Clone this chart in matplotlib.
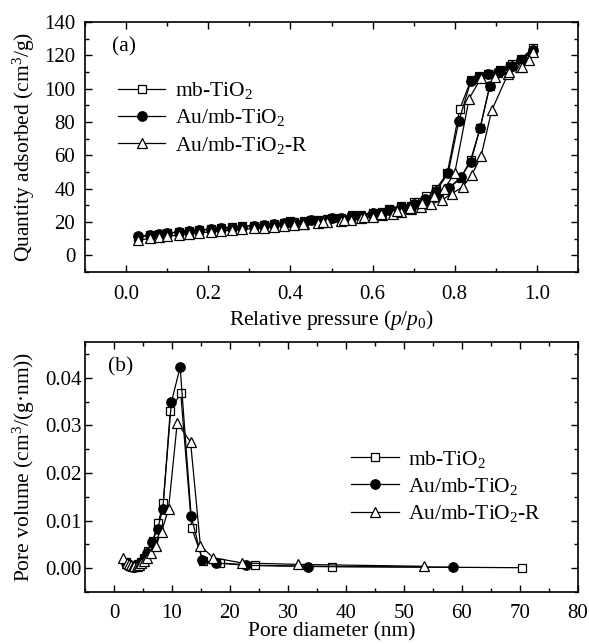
import matplotlib
matplotlib.use("Agg")
import matplotlib.pyplot as plt
from matplotlib.ticker import MultipleLocator, FormatStrFormatter

plt.rcParams['font.family'] = ['Liberation Serif', 'DejaVu Serif']
plt.rcParams['mathtext.fontset'] = 'custom'
plt.rcParams['mathtext.rm'] = 'Liberation Serif'
plt.rcParams['mathtext.it'] = 'Liberation Serif:italic'
plt.rcParams['font.size'] = 15.5

labels = ['mb-TiO$_2$', 'Au/mb-TiO$_2$', 'Au/mb-TiO$_2$-R']

# ---- (a) isotherms: adsorption then desorption ----
mb_ads_p = [0.029, 0.059, 0.08, 0.10, 0.128, 0.153, 0.177, 0.206, 0.23, 0.259, 0.283, 0.311, 0.336, 0.36,
            0.385, 0.409, 0.433, 0.466, 0.49, 0.523, 0.547, 0.572, 0.60, 0.624, 0.649, 0.669, 0.693, 0.718,
            0.734, 0.759, 0.787, 0.815, 0.839, 0.862, 0.885, 0.905, 0.935, 0.962, 0.99]
mb_ads_q = [11.0, 12.0, 12.6, 13.2, 14.0, 14.7, 15.2, 15.8, 16.3, 16.8, 17.3, 17.8, 18.3, 18.8,
            19.4, 19.9, 20.4, 21.1, 21.6, 22.4, 23.1, 23.9, 24.8, 25.7, 26.8, 28.0, 29.6, 31.8,
            33.5, 36.5, 40.5, 46.5, 57.4, 76.6, 101.4, 109.5, 113.5, 118.0, 124.5]
mb_des_p = [0.968, 0.94, 0.91, 0.88, 0.86, 0.839, 0.812, 0.782, 0.755, 0.73, 0.70, 0.67, 0.64, 0.60, 0.55, 0.50, 0.45, 0.40]
mb_des_q = [117.5, 114.5, 111.0, 108.6, 107.5, 105.0, 87.6, 49.4, 40.0, 35.5, 32.0, 29.5, 27.5, 25.6, 24.0, 22.5, 21.3, 20.3]

au_ads_p = mb_ads_p
au_ads_q = [11.3, 12.2, 12.8, 13.3, 14.0, 14.6, 15.1, 15.6, 16.1, 16.6, 17.1, 17.6, 18.1, 18.6,
            19.1, 19.6, 20.1, 20.8, 21.3, 22.1, 22.8, 23.6, 24.5, 25.4, 26.4, 27.5, 29.0, 31.0,
            33.0, 36.0, 40.4, 47.0, 56.0, 76.6, 101.4, 110.0, 113.0, 117.0, 123.0]
au_des_p = [0.965, 0.94, 0.91, 0.88, 0.86, 0.839, 0.81, 0.784, 0.755, 0.727, 0.70, 0.67, 0.64, 0.60, 0.55, 0.50, 0.45, 0.40]
au_des_q = [117.0, 113.5, 110.5, 108.5, 107.0, 104.4, 80.6, 49.4, 38.6, 34.0, 31.0, 29.0, 27.0, 25.2, 23.6, 22.2, 21.0, 20.0]

aur_ads_p = [0.029, 0.059, 0.08, 0.10, 0.128, 0.153, 0.177, 0.206, 0.23, 0.259, 0.283, 0.311, 0.336, 0.36,
             0.385, 0.409, 0.433, 0.466, 0.49, 0.523, 0.547, 0.572, 0.60, 0.624, 0.649, 0.669, 0.693, 0.718,
             0.743, 0.77, 0.793, 0.819, 0.841, 0.864, 0.89, 0.93, 0.96, 0.99]
aur_ads_q = [9.0, 10.2, 10.8, 11.4, 12.2, 12.9, 13.5, 14.1, 14.6, 15.1, 15.6, 16.1, 16.6, 17.1,
             17.6, 18.1, 18.6, 19.3, 19.9, 20.7, 21.4, 22.2, 23.0, 24.0, 25.0, 26.0, 27.5, 29.0,
             30.6, 33.4, 37.0, 41.0, 48.0, 59.4, 87.0, 109.0, 113.0, 122.0]
aur_des_p = [0.98, 0.963, 0.931, 0.899, 0.864, 0.835, 0.80, 0.775, 0.75, 0.72, 0.69, 0.66, 0.62, 0.58, 0.53, 0.48, 0.43]
aur_des_q = [117.4, 113.0, 110.0, 107.0, 106.4, 94.0, 49.4, 40.0, 35.5, 31.5, 28.5, 26.5, 24.5, 23.0, 21.3, 19.8, 18.6]

# ---- (b) pore size distributions ----
mb_d = [2.0, 2.3, 2.6, 2.9, 3.2, 3.5, 3.8, 4.2, 4.6, 5.1, 5.8, 6.7, 7.6, 8.5, 9.7, 11.5, 13.4, 15.4, 18.2, 24.3, 37.6, 70.3]
mb_v = [0.0012, 0.0008, 0.0006, 0.0005, 0.0004, 0.0004, 0.0005, 0.0008, 0.0013, 0.0021, 0.0036, 0.0058,
        0.0094, 0.0136, 0.033, 0.0368, 0.0084, 0.0015, 0.0011, 0.0006, 0.00035, 0.0001]
au_d = [2.0, 2.3, 2.6, 2.9, 3.2, 3.5, 3.8, 4.2, 4.6, 5.1, 5.7, 6.5, 7.5, 8.4, 9.9, 11.4, 13.3, 15.2, 17.5, 22.8, 33.4, 58.4]
au_v = [0.0010, 0.0007, 0.0005, 0.0004, 0.0003, 0.0003, 0.0004, 0.0007, 0.0011, 0.0019, 0.0032, 0.0054,
        0.0082, 0.0124, 0.0349, 0.0422, 0.011, 0.0017, 0.0011, 0.0006, 0.00035, 0.0002]
aur_d = [1.6, 2.3, 2.6, 2.9, 3.2, 3.5, 3.9, 4.3, 4.7, 5.2, 5.7, 6.4, 7.2, 8.2, 9.4, 10.9, 13.2, 14.9, 17.1, 22.1, 31.7, 53.4]
aur_v = [0.0021, 0.0011, 0.0008, 0.0006, 0.0005, 0.0005, 0.0005, 0.0007, 0.001, 0.0015, 0.0022, 0.0032,
         0.0047, 0.0077, 0.0124, 0.0305, 0.0265, 0.0047, 0.0022, 0.0011, 0.0008, 0.0004]

fig = plt.figure(figsize=(5.89, 6.44), dpi=100)
axA = fig.add_axes([85/589, 1-272/644, 493/589, 250/644])
axB = fig.add_axes([85/589, 1-592/644, 493/589, 250/644])

styles = [dict(marker='s', mfc='white', ms=6.3),
          dict(marker='o', mfc='black', ms=6.8),
          dict(marker='^', mfc='white', ms=7.8)]
common = dict(color='black', lw=0.9, mec='black', mew=0.9)

seriesA = [(mb_ads_p + mb_des_p, mb_ads_q + mb_des_q),
           (au_ads_p + au_des_p, au_ads_q + au_des_q),
           (aur_ads_p + aur_des_p, aur_ads_q + aur_des_q)]
for (x, y), st, lab in zip(seriesA, styles, labels):
    axA.plot(x, y, label=lab, **st, **common)

seriesB = [(mb_d, mb_v), (au_d, au_v), (aur_d, aur_v)]
for (x, y), st, lab in zip(seriesB, styles, labels):
    axB.plot(x, y, label=lab, **st, **common)

for ax in (axA, axB):
    ax.tick_params(which='both', direction='in', top=True, right=True, labelsize=15, width=1.0)
    ax.tick_params(which='major', length=4.8)
    ax.tick_params(which='minor', length=3)
    for s in ax.spines.values():
        s.set_linewidth(1.2)
axA.tick_params(axis='x', which='major', pad=9.5)
axB.tick_params(axis='x', which='major', pad=8.5)
axA.tick_params(axis='y', which='major', pad=7)
axB.tick_params(axis='y', which='major', pad=2.2)

axA.set_xlim(-0.1, 1.1)
axA.set_ylim(-10, 140)
axA.xaxis.set_major_locator(MultipleLocator(0.2))
axA.xaxis.set_minor_locator(MultipleLocator(0.1))
axA.yaxis.set_major_locator(MultipleLocator(20))
axA.yaxis.set_minor_locator(MultipleLocator(10))
axA.xaxis.set_major_formatter(FormatStrFormatter('%.1f'))
axA.set_xlabel('Relative pressure ($p$/$p_0$)', fontsize=15.5, va='center')
axA.set_ylabel('Quantity adsorbed (cm$^3$/g)', fontsize=15.5, va='center')
axA.xaxis.set_label_coords(0.5, -0.192)
axA.yaxis.set_label_coords(-0.123, 0.5)
axA.text(0.055, 0.9, '(a)', transform=axA.transAxes, fontsize=15.5, va='center', ha='left')
axA.legend(loc='center left', bbox_to_anchor=(0.067, 0.616), frameon=False, borderpad=0,
           borderaxespad=0, handlelength=2.2, handletextpad=0.45, labelspacing=0.3, fontsize=15.5)

axB.set_xlim(-5, 80)
axB.set_ylim(-0.005, 0.0475)
axB.xaxis.set_major_locator(MultipleLocator(10))
axB.xaxis.set_minor_locator(MultipleLocator(5))
axB.yaxis.set_major_locator(MultipleLocator(0.01))
axB.yaxis.set_minor_locator(MultipleLocator(0.005))
axB.yaxis.set_major_formatter(FormatStrFormatter('%.2f'))
axB.set_xlabel('Pore diameter (nm)', fontsize=15.5, va='top')
axB.set_ylabel('Pore volume (cm$^3$/(g·nm))', fontsize=15.5, va='center')
axB.xaxis.set_label_coords(0.5, -0.12)
axB.yaxis.set_label_coords(-0.123, 0.5)
axB.text(0.047, 0.9, '(b)', transform=axB.transAxes, fontsize=15.5, va='center', ha='left')
axB.legend(loc='center left', bbox_to_anchor=(0.54, 0.422), frameon=False, borderpad=0,
           borderaxespad=0, handlelength=2.2, handletextpad=0.45, labelspacing=0.3, fontsize=15.5)

fig.savefig('out.png', dpi=100)
